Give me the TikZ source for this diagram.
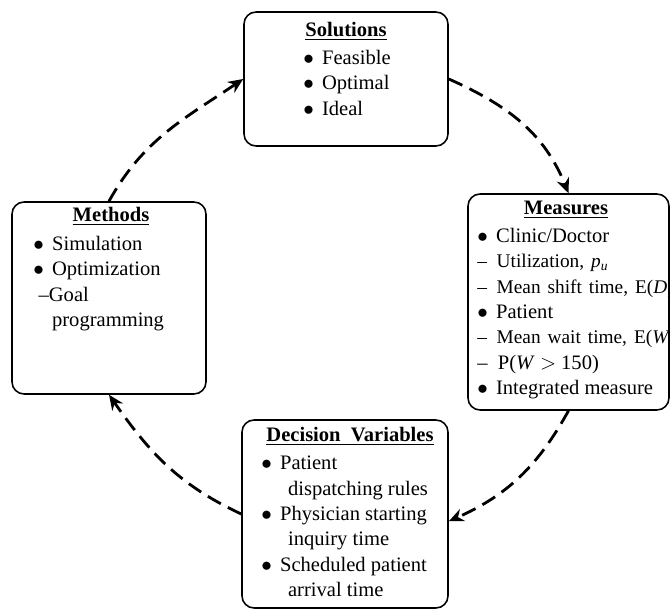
\documentclass[tikz,border=0pt]{standalone}
\usepackage{fontspec}
\setmainfont{Liberation Serif}
\usepackage{tikz}
\usetikzlibrary{positioning,arrows.meta}

\newcommand{\itembul}{$\bullet$\hspace{0.4em}}
\newcommand{\itemdash}{--\hspace{0.5em}}
\newcommand{\itemgap}{\hphantom{\itembul}}
\newcommand{\smalltext}{\fontsize{11}{14.4}\selectfont\spaceskip=0.36em plus 0.1em}

\begin{document}
\begin{tikzpicture}[
    x=0.02cm, y=0.02cm,
    box/.style={rectangle, draw, rounded corners=0.24cm, line width=0.9pt},
    heading/.style={inner sep=0pt, anchor=base, font=\fontsize{11.7}{14.4}\selectfont\bfseries},
    items/.style={inner sep=0pt, anchor=north west, align=left, font=\fontsize{11.7}{14.4}\selectfont},
    arrow/.style={-{Stealth[length=0.3cm, width=0.26cm]}, line width=1.6pt, dash pattern=on 8.5pt off 4.5pt}
]
    \useasboundingbox (0,0) rectangle (670,609);
    \clip (0,0) rectangle (670,609);

    % Nodes
    \node[box, minimum width=4.08cm, minimum height=2.68cm] (solutions) at (346,530) {};
    \node[box, minimum width=4.02cm, minimum height=4.32cm] (measures) at (568.5,307) {};
    \node[box, minimum width=3.88cm, minimum height=3.84cm] (methods) at (109,311) {};
    \node[box, minimum width=4.12cm, minimum height=3.76cm] (decision) at (345,95) {};

    % Titles
    \node[heading] (soltitle) at (346,572) {\underline{Solutions}};
    \node[heading] (meatitle) at (566,394) {\underline{Measures}};
    \node[heading] (mettitle) at (111,387.5) {\underline{Methods}};
    \node[heading] (dectitle) at (350,167.5) {\underline{Decision\ \ Variables}};

    % Lists
    \node[items] (sollist) at (303,559) {\itembul Feasible\\ \itembul Optimal\\ \itembul Ideal};
    \node[items] (mealist) at (477,381) {\itembul Clinic/Doctor\\
        {\smalltext\itemdash Utilization, \textit{p}\textsubscript{\textit{u}}}\\
        {\smalltext\itemdash Mean shift time, E(\textit{D})}\\
        \itembul Patient\\
        {\smalltext\itemdash Mean wait time, E(\textit{W})}\\
        {\itemdash P(\textit{W} $>$ 150)}\\
        \itembul Integrated measure};
    \node[items] (metlist) at (33,373) {\itembul Simulation\\ \itembul Optimization\\
        \hspace{3pt}--Goal\\ \itemgap programming};
    \node[items] (declist) at (261,153) {\itembul Patient\\ \hspace{1.3em}dispatching rules\\
        \itembul Physician starting\\ \hspace{1.3em}inquiry time\\
        \itembul Scheduled patient\\ \hspace{1.3em}arrival time};

    % Arrows
    \draw[arrow] (solutions.east) to[out=-24, in=112] (measures.north);
    \draw[arrow] (measures.south) to[out=-119, in=24] (decision.-4);
    \draw[arrow] (decision.west) to[out=155, in=-55] (methods.south);
    \draw[arrow] (methods.north) to[out=61, in=214] (solutions.west);
\end{tikzpicture}
\end{document}
